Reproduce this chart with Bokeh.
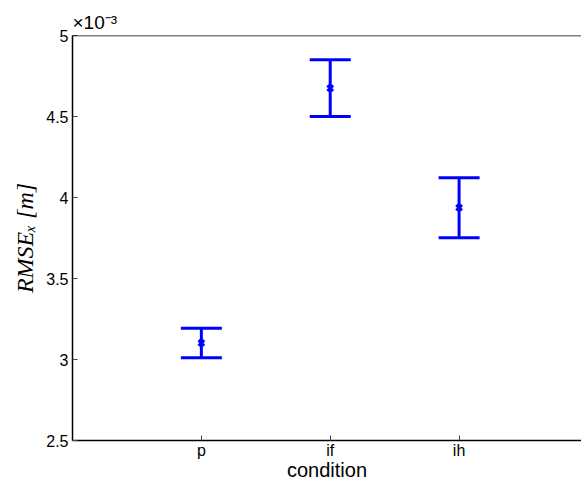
from bokeh.plotting import figure
from bokeh.models import FixedTicker, Span, Range1d, ColumnDataSource, Whisker, TeeHead
from bokeh.embed import file_html
from bokeh.resources import INLINE

# data (RMSE in units of 1e-3 m)
conditions = ["p", "if", "ih"]
positions = [1, 2, 3]
rmse_mean = [3.102, 4.675, 3.937]
rmse_lower = [3.011, 4.500, 3.752]
rmse_upper = [3.193, 4.850, 4.122]
y_ticks = [2.5, 3.0, 3.5, 4.0, 4.5, 5.0]
y_tick_labels = ["2.5", "3", "3.5", "4", "4.5", "5"]

src = ColumnDataSource(dict(x=positions, mean=rmse_mean, lower=rmse_lower, upper=rmse_upper))

p = figure(width=581, height=483, output_backend="svg", toolbar_location=None,
           x_range=Range1d(0, 3.95), y_range=Range1d(2.5, 5.0),
           min_border_left=72, min_border_right=0, min_border_top=35, min_border_bottom=42)
p.outline_line_color = None
p.grid.visible = False
p.background_fill_color = "white"

p.title.text = "×10⁻³"
p.title.align = "left"
p.title.text_font = "Liberation Sans"
p.title.text_font_size = "19px"
p.title.text_font_style = "normal"
p.title.text_color = "black"
p.title.standoff = 5
p.title.offset = 0

blue = "#0000FF"
w = Whisker(base="x", upper="upper", lower="lower", source=src, dimension="height",
            line_color=blue, line_width=3,
            upper_head=TeeHead(size=41, line_color=blue, line_width=3),
            lower_head=TeeHead(size=41, line_color=blue, line_width=3))
p.add_layout(w)
p.scatter("x", "mean", source=src, marker="x", size=8, line_width=3, color=blue)

p.add_layout(Span(location=5.0, dimension="width", line_color="black", line_width=1.5))

for ax in (p.xaxis[0], p.yaxis[0]):
    ax.axis_line_color = "black"
    ax.axis_line_width = 1.5
    ax.major_tick_in = 5
    ax.major_tick_out = 0
    ax.minor_tick_line_color = None
    ax.major_tick_line_color = "#444444"
    ax.major_label_text_font = "Liberation Sans"
    ax.major_label_text_font_size = "16px"
    ax.major_label_text_color = "black"
    ax.axis_label_text_color = "black"

p.xaxis.ticker = FixedTicker(ticks=positions)
p.xaxis.major_label_overrides = {pos: c for pos, c in zip(positions, conditions)}
p.xaxis.major_label_standoff = 1
p.xaxis.axis_label = "condition"
p.xaxis.axis_label_text_font = "Liberation Sans"
p.xaxis.axis_label_text_font_style = "normal"
p.xaxis.axis_label_text_font_size = "20px"
p.xaxis.axis_label_standoff = -3

p.yaxis.ticker = FixedTicker(ticks=y_ticks)
p.yaxis.major_label_overrides = {t: s for t, s in zip(y_ticks, y_tick_labels)}
p.yaxis.major_label_standoff = 4
p.yaxis.axis_label = "RMSEₓ [m]"
p.yaxis.axis_label_text_font = "Liberation Serif"
p.yaxis.axis_label_text_font_style = "italic"
p.yaxis.axis_label_text_font_size = "24px"
p.yaxis.axis_label_standoff = 5

open("out.html", "w").write(file_html(p, INLINE))
